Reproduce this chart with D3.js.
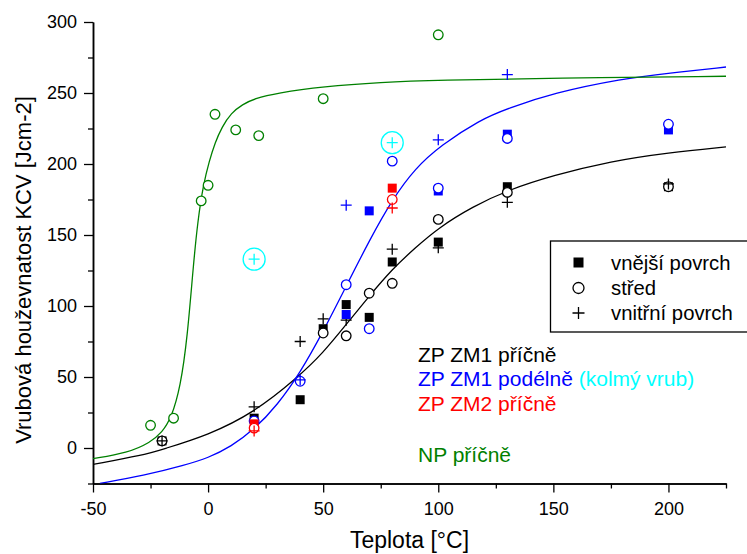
<!DOCTYPE html>
<html>
<head>
<meta charset="utf-8">
<script src="https://cdn.jsdelivr.net/npm/d3@7"></script>
<style>
  body { margin: 0; background: #fff; }
  svg { font-family: "Liberation Sans", Arial, sans-serif; }
</style>
</head>
<body>
<div id="chart"></div>
<script>
// ZP ZM1 příčně (black)
const blackSquares = [[-20, 5], [20, 21], [40, 34], [50, 84], [60, 101], [70, 92], [80, 131], [100, 145], [130, 184], [200, 184]];
const blackCircles = [[-20, 5], [50, 81], [60, 79], [70, 109], [80, 116], [100, 161], [130, 180], [200, 184]];
const blackPlus = [[-20, 5], [20, 29], [40, 75], [50, 91], [60, 90], [80, 140], [100, 141], [130, 173], [200, 186]];

// ZP ZM1 podélně (blue)
const blueSquares = [[60, 94], [70, 167], [100, 181], [130, 221], [200, 224]];
const blueCircles = [[20, 19], [40, 47], [60, 115], [70, 84], [80, 202], [100, 183], [130, 218], [200, 228]];
const bluePlus = [[40, 48], [60, 171], [100, 217], [130, 263]];

// ZP ZM2 příčně (red)
const redSquares = [[20, 17], [80, 183]];
const redCircles = [[20, 14], [80, 175]];
const redPlus = [[20, 12], [80, 169]];

// NP příčně (green)
const greenCircles = [[-25, 16], [-15, 21], [-3, 174], [0, 185], [3, 235], [12, 224], [22, 220], [50, 246], [100, 291]];

// kolmý vrub (cyan)
const cyanPoints = [[20, 133], [80, 215]];

// fitted curves
const blackFit = [[-50, -11.5], [-28, -5], [-20, -1], [0, 9], [20, 25], [38.5, 49], [50, 67], [60, 87], [70, 107], [80, 126], [90, 141], [100, 155], [115, 170], [130, 181.5], [150, 192], [175, 202], [200, 208], [225, 212]];
const blueFit = [[-47, -25], [-28, -19.5], [-10, -12], [0, -7], [10, 1], [20, 13], [30, 30], [40, 53], [50, 82], [60, 114], [70, 146], [80, 175], [90, 197], [101, 213], [118, 231], [130, 239], [150, 250], [180, 260], [200, 264], [225, 268.3]];
const greenFit = [[-50, -7.5], [-35, -3.5], [-25, 4], [-20, 11], [-16, 21], [-12, 43], [-9, 78], [-6.5, 127], [-4.5, 160], [-2, 186], [0.5, 202], [3, 215], [6, 226], [10, 236], [15, 242], [20, 246], [30, 250], [50, 254.5], [75, 257.5], [100, 259], [150, 260.5], [225, 261.8]];

const xMajor = [-50, 0, 50, 100, 150, 200];
const xMinor = [-25, 25, 75, 125, 175, 225];
const yMajor = [0, 50, 100, 150, 200, 250, 300];
const yMinor = [-25, 25, 75, 125, 175, 225, 275];

const legendItems = ["vnější povrch", "střed", "vnitřní povrch"];

const width = 747;
const height = 554;
const GREEN = "#008000";

const x = d3.scaleLinear().domain([-50, 225]).range([93, 726]);
const y = d3.scaleLinear().domain([-25, 300]).range([483.5, 22]);

const svg = d3.select("#chart").append("svg")
  .attr("width", width)
  .attr("height", height);

svg.append("clipPath").attr("id", "plot-clip")
  .append("rect")
  .attr("x", x(-50)).attr("y", y(300))
  .attr("width", x(225) - x(-50)).attr("height", y(-25) - y(300));

// axes
const plain = (d) => String(d);
svg.append("g").attr("transform", `translate(0,${y(-25)})`)
  .call(d3.axisBottom(x).tickValues(xMajor).tickFormat(plain).tickSize(9).tickSizeOuter(0).tickPadding(10));
svg.append("g").attr("transform", `translate(0,${y(-25)})`)
  .call(d3.axisBottom(x).tickValues(xMinor).tickSize(5).tickSizeOuter(0).tickFormat(""));
svg.append("g").attr("transform", `translate(${x(-50)},0)`)
  .call(d3.axisLeft(y).tickValues(yMajor).tickFormat(plain).tickSize(9).tickSizeOuter(0).tickPadding(7));
svg.append("g").attr("transform", `translate(${x(-50)},0)`)
  .call(d3.axisLeft(y).tickValues(yMinor).tickSize(5).tickSizeOuter(0).tickFormat(""));

svg.selectAll(".domain").attr("stroke", "#000").attr("stroke-width", 1.5);
svg.selectAll(".tick line").attr("stroke", "#000").attr("stroke-width", 1.3);
svg.selectAll(".tick text")
  .attr("font-family", "'Liberation Sans', Arial, sans-serif")
  .attr("font-size", 18)
  .attr("fill", "#000");

svg.append("text")
  .attr("x", (x(-50) + x(225)) / 2)
  .attr("y", 548)
  .attr("text-anchor", "middle")
  .attr("font-size", 23)
  .text("Teplota [°C]");

svg.append("text")
  .attr("transform", "translate(31,270) rotate(-90)")
  .attr("text-anchor", "middle")
  .attr("font-size", 22)
  .text("Vrubová houževnatost KCV [Jcm-2]");

// fitted curves
const line = d3.line()
  .x((d) => x(d[0]))
  .y((d) => y(d[1]))
  .curve(d3.curveBasis);

const curves = svg.append("g").attr("clip-path", "url(#plot-clip)");
[[blackFit, "#000"], [blueFit, "#0000ff"], [greenFit, GREEN]].forEach(([pts, color]) => {
  curves.append("path")
    .attr("d", line(pts))
    .attr("fill", "none")
    .attr("stroke", color)
    .attr("stroke-width", 1.3);
});

// marker helpers
const marks = svg.append("g");

function drawSquares(pts, color) {
  marks.selectAll(null).data(pts).enter().append("rect")
    .attr("x", (d) => x(d[0]) - 4.5)
    .attr("y", (d) => y(d[1]) - 4.5)
    .attr("width", 9)
    .attr("height", 9)
    .attr("fill", color);
}

function drawCircles(pts, color, r = 4.8) {
  marks.selectAll(null).data(pts).enter().append("circle")
    .attr("cx", (d) => x(d[0]))
    .attr("cy", (d) => y(d[1]))
    .attr("r", r)
    .attr("fill", "#fff")
    .attr("stroke", color)
    .attr("stroke-width", 1.3);
}

function drawPlus(pts, color) {
  marks.selectAll(null).data(pts).enter().append("path")
    .attr("d", (d) => {
      const cx = x(d[0]), cy = y(d[1]);
      return `M${cx - 5.5},${cy}H${cx + 5.5}M${cx},${cy - 5.5}V${cy + 5.5}`;
    })
    .attr("stroke", color)
    .attr("stroke-width", 1.3)
    .attr("fill", "none");
}

drawSquares(blackSquares, "#000");
drawCircles(blackCircles, "#000");
drawPlus(blackPlus, "#000");

drawSquares(blueSquares, "#0000ff");
drawCircles(blueCircles, "#0000ff");
drawPlus(bluePlus, "#0000ff");

drawSquares(redSquares, "#ff0000");
drawCircles(redCircles, "#ff0000");
drawPlus(redPlus, "#ff0000");

drawCircles(greenCircles, GREEN);

drawCircles(cyanPoints, "#00ffff", 11);
drawPlus(cyanPoints, "#00ffff");

// legend box
const legend = svg.append("g");
legend.append("rect")
  .attr("x", 550.5).attr("y", 241)
  .attr("width", 210).attr("height", 91)
  .attr("fill", "#fff")
  .attr("stroke", "#000")
  .attr("stroke-width", 1.3);

const legendY = [270, 295, 320];
legend.append("rect")
  .attr("x", 573.5).attr("y", legendY[0] - 12.5)
  .attr("width", 10).attr("height", 10)
  .attr("fill", "#000");
legend.append("circle")
  .attr("cx", 578.5).attr("cy", legendY[1] - 7)
  .attr("r", 5.5)
  .attr("fill", "#fff").attr("stroke", "#000").attr("stroke-width", 1.3);
legend.append("path")
  .attr("d", `M572.5,${legendY[2] - 7}H584.5M578.5,${legendY[2] - 13}V${legendY[2] - 1}`)
  .attr("stroke", "#000").attr("stroke-width", 1.3);

legend.selectAll("text.legend-label")
  .data(legendItems)
  .enter()
  .append("text")
  .attr("class", "legend-label")
  .attr("x", 611)
  .attr("y", (_, i) => legendY[i])
  .attr("font-size", 20.3)
  .text((d) => d);

// annotations
const notes = svg.append("g").attr("font-size", 21);
notes.append("text").attr("x", 418).attr("y", 362).attr("fill", "#000").text("ZP ZM1 příčně");
const t2 = notes.append("text").attr("x", 418).attr("y", 386);
t2.append("tspan").attr("fill", "#0000ff").text("ZP ZM1 podélně ");
t2.append("tspan").attr("fill", "#00ffff").text("(kolmý vrub)");
notes.append("text").attr("x", 418).attr("y", 411).attr("fill", "#ff0000").text("ZP ZM2 příčně");
notes.append("text").attr("x", 418).attr("y", 462).attr("fill", GREEN).text("NP příčně");
</script>
</body>
</html>
